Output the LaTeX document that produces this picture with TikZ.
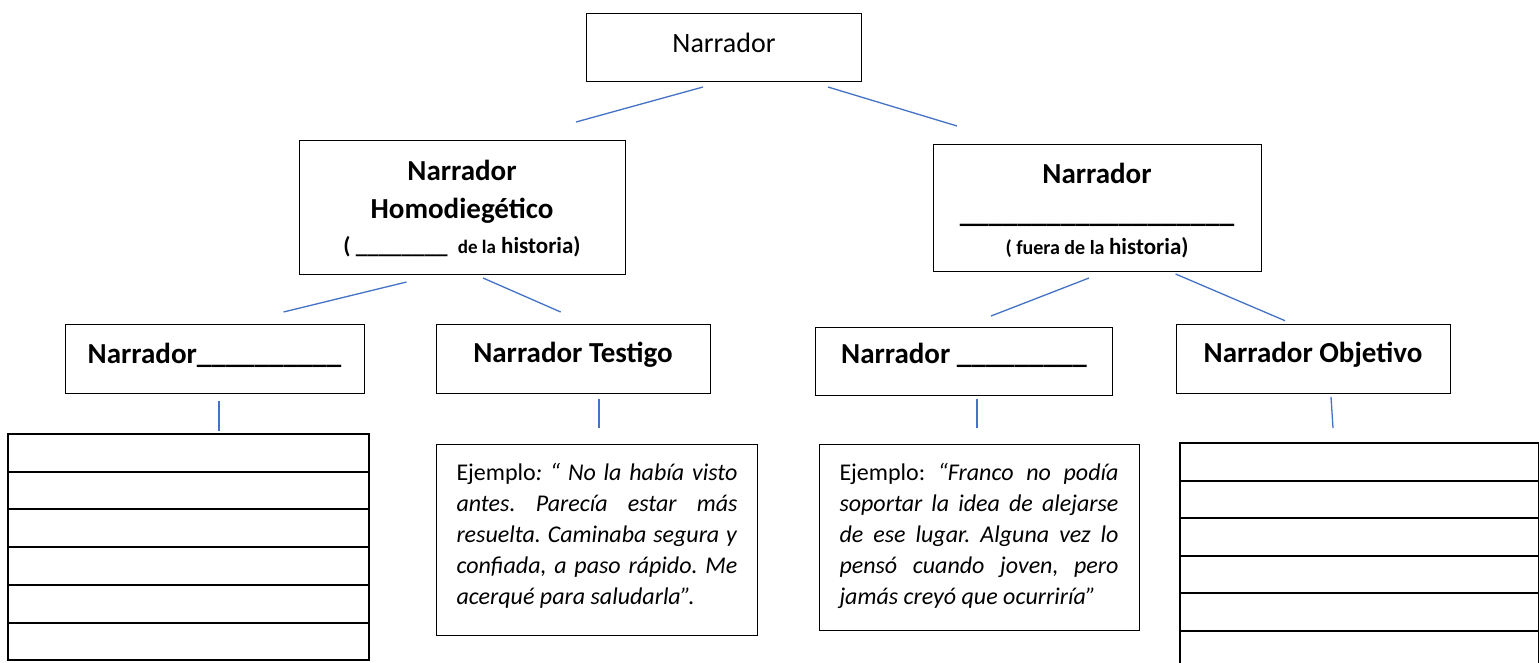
\documentclass[tikz,border=0pt]{standalone}
\usepackage{fontspec}
\setmainfont{Carlito}
\definecolor{linkblue}{RGB}{68,114,196}
\begin{document}
\frenchspacing
\begin{tikzpicture}[x=1pt,y=-1pt,
  box/.style={draw=black, line width=1pt, inner sep=0pt, anchor=north},
  cell/.style={draw=black, line width=2pt, inner sep=0pt, anchor=north west},
  link/.style={draw=linkblue, line width=1.3pt}]
\clip (0,0) rectangle (1539,662);
\fill[white] (0,0) rectangle (1539,662);

% level 1
\node[box, minimum width=274.5pt, text height=39.6pt, text depth=28.7pt] (top) at (724,12.7)
  {\fontsize{28}{34}\selectfont Narrador};

% level 2
\node[box, minimum width=326pt, text height=40pt, text depth=94pt] (homo) at (462,140)
  {\bfseries\vtop{\lineskiplimit=-100pt \baselineskip=38pt
   \hbox to 0pt{\hss\fontsize{29}{38}\selectfont Narrador\hss}
   \hbox to 0pt{\hss\fontsize{29}{38}\selectfont Homodiegético\hss}
   \baselineskip=35pt
   \hbox to 0pt{\hss\fontsize{23}{35}\selectfont ( \_\_\_\_\_\_\_\_\ \ {\fontsize{19}{35}\selectfont de la} historia)\hss}}};

\node[box, minimum width=328pt, text height=38.7pt, text depth=88.3pt] (hetero) at (1097,144)
  {\bfseries\vtop{\lineskiplimit=-100pt \baselineskip=39pt
   \hbox to 0pt{\hss\fontsize{29}{38}\selectfont Narrador\hss}
   \hbox to 0pt{\hss\fontsize{29}{38}\selectfont \_\_\_\_\_\_\_\_\_\_\_\_\_\_\_\_\_\_\_\hss}
   \baselineskip=32pt
   \hbox to 0pt{\hss\fontsize{20}{32}\selectfont ( fuera de la {\fontsize{23}{32}\selectfont historia)}\hss}}};

% level 3
\node[box, minimum width=299pt, text height=39pt, text depth=30pt] (nA) at (214.5,324)
  {\bfseries\fontsize{29}{35}\selectfont Narrador\_\_\_\_\_\_\_\_\_\_};
\node[box, minimum width=274pt, text height=38pt, text depth=31pt] (nB) at (573,324)
  {\bfseries\fontsize{29}{35}\selectfont Narrador Testigo};
\node[box, minimum width=297.5pt, text height=36.3pt, text depth=32pt] (nC) at (964,326.7)
  {\bfseries\fontsize{29}{35}\selectfont Narrador \_\_\_\_\_\_\_\_\_};
\node[box, minimum width=274pt, text height=38pt, text depth=31pt] (nD) at (1313,324)
  {\bfseries\fontsize{29}{35}\selectfont Narrador Objetivo};

% examples
\node[box, minimum width=320.5pt, text height=36pt, text depth=155pt] (ejA) at (597,444)
  {\fontsize{24}{31}\selectfont\vtop{\hsize=281pt \lineskiplimit=-100pt \baselineskip=31pt
   \hbox to 281pt{Ejemplo\textit{: “ No la había visto}}
   \hbox to 281pt{\textit{antes. Parecía estar más}}
   \hbox to 281pt{\textit{resuelta. Caminaba segura y}}
   \hbox to 281pt{\textit{confiada, a paso rápido. Me}}
   \hbox to 281pt{\textit{acerqué para saludarla”.}\hfil}}};
\node[box, minimum width=320pt, text height=36pt, text depth=150pt] (ejB) at (979,444)
  {\fontsize{24}{31}\selectfont\vtop{\hsize=279pt \lineskiplimit=-100pt \baselineskip=31pt
   \hbox to 279pt{Ejemplo: \textit{“Franco no podía}}
   \hbox to 279pt{\textit{soportar la idea de alejarse}}
   \hbox to 279pt{\textit{de ese lugar. Alguna vez lo}}
   \hbox to 279pt{\textit{pensó cuando joven, pero}}
   \hbox to 279pt{\textit{jamás creyó que ocurriría”}\hfil}}};

% answer grids
\foreach \i in {0,...,5}{
  \node[cell, minimum width=360.7pt, minimum height=37.7pt] (sL\i) at (7.3,433+37.7*\i) {};
  \node[cell, minimum width=358.5pt, minimum height=37.6pt] (sR\i) at (1179,442+37.6*\i) {};
}

% connector end points
\coordinate (c1a) at (703,87);    \coordinate (c1b) at (576,122);
\coordinate (c2a) at (828,87);    \coordinate (c2b) at (957,126);
\coordinate (c3a) at (406.5,282); \coordinate (c3b) at (283.5,312);
\coordinate (c4a) at (483,278);   \coordinate (c4b) at (560.7,312);
\coordinate (c5a) at (1089,278);  \coordinate (c5b) at (991,316);
\coordinate (c6a) at (1175.6,274);\coordinate (c6b) at (1285,320.7);
\coordinate (c7a) at (219,401);   \coordinate (c7b) at (219,431);
\coordinate (c8a) at (599,399);   \coordinate (c8b) at (599,428);
\coordinate (c9a) at (977,399);   \coordinate (c9b) at (977,428);
\coordinate (c10a) at (1331,397); \coordinate (c10b) at (1333,428);

\draw[link] (c1a) -- (c1b);
\draw[link] (c2a) -- (c2b);
\draw[link] (c3a) -- (c3b);
\draw[link] (c4a) -- (c4b);
\draw[link] (c5a) -- (c5b);
\draw[link] (c6a) -- (c6b);
\draw[link] (c7a) -- (c7b);
\draw[link] (c8a) -- (c8b);
\draw[link] (c9a) -- (c9b);
\draw[link] (c10a) -- (c10b);
\end{tikzpicture}
\end{document}
